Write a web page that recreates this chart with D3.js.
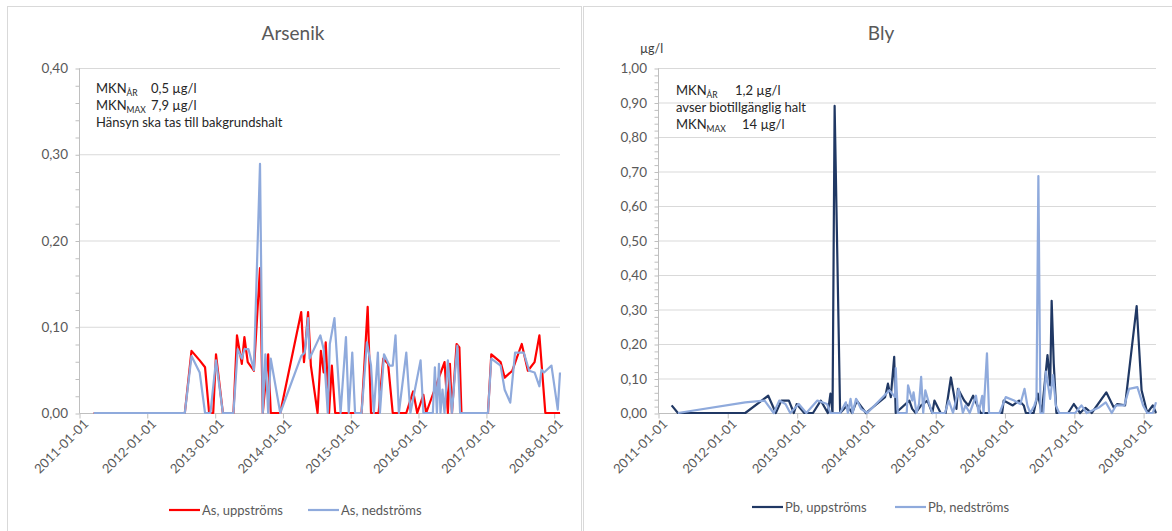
<!DOCTYPE html>
<html>
<head>
<meta charset="utf-8">
<script src="https://cdn.jsdelivr.net/npm/d3@7"></script>
<style>
  body { margin: 0; background: #fff; }
  svg { font-family: Lato, "Open Sans", sans-serif; }
</style>
</head>
<body>
<svg id="chart" width="1172" height="531"></svg>
<script>
// year ticks on both date axes
const yearTicks = ["2011-01-01", "2012-01-01", "2013-01-01", "2014-01-01", "2015-01-01", "2016-01-01", "2017-01-01", "2018-01-01"];
const asTicks = [0, 0.1, 0.2, 0.3, 0.4];
const pbTicks = [0, 0.1, 0.2, 0.3, 0.4, 0.5, 0.6, 0.7, 0.8, 0.9, 1.0];
const asLegend = ["As, uppströms", "As, nedströms"];
const pbLegend = ["Pb, uppströms", "Pb, nedströms"];

// Arsenik, µg/l
const asUpp = [
  ["2011-03-21", 0], ["2012-07-24", 0], ["2012-08-29", 0.072], ["2012-10-12", 0.061], ["2012-11-10", 0.053],
  ["2012-12-02", 0], ["2012-12-24", 0], ["2013-01-08", 0.068], ["2013-02-14", 0], ["2013-04-12", 0],
  ["2013-05-01", 0.09], ["2013-05-27", 0.057], ["2013-06-10", 0.088], ["2013-06-28", 0.059], ["2013-07-31", 0.049],
  ["2013-09-02", 0.168], ["2013-09-17", 0], ["2013-10-16", 0.068], ["2013-10-30", 0], ["2013-12-20", 0],
  ["2014-04-12", 0.117], ["2014-04-27", 0.059], ["2014-05-19", 0.117], ["2014-06-03", 0.055], ["2014-07-09", 0],
  ["2014-07-27", 0.072], ["2014-08-11", 0.047], ["2014-08-22", 0.082], ["2014-09-09", 0], ["2014-09-24", 0.055],
  ["2014-10-12", 0], ["2014-12-20", 0], ["2015-03-03", 0], ["2015-03-18", 0.055], ["2015-04-05", 0.123],
  ["2015-04-23", 0], ["2015-06-03", 0], ["2015-06-28", 0.063], ["2015-07-24", 0.057], ["2015-08-18", 0],
  ["2015-10-30", 0], ["2015-12-06", 0.025], ["2015-12-28", 0], ["2016-01-30", 0.021], ["2016-02-14", 0],
  ["2016-05-23", 0.059], ["2016-06-10", 0], ["2016-06-21", 0.057], ["2016-07-02", 0], ["2016-07-27", 0.08],
  ["2016-08-11", 0.076], ["2016-08-22", 0], ["2017-01-12", 0], ["2017-01-30", 0.068], ["2017-03-21", 0.059],
  ["2017-04-12", 0.041], ["2017-05-23", 0.049], ["2017-07-13", 0.08], ["2017-08-15", 0.049], ["2017-09-20", 0.059],
  ["2017-10-16", 0.09], ["2017-11-17", 0], ["2018-02-04", 0]
];
const asNed = [
  ["2011-03-21", 0], ["2012-07-24", 0], ["2012-08-29", 0.066], ["2012-10-12", 0.047], ["2012-11-10", 0],
  ["2012-12-09", 0], ["2013-01-08", 0.061], ["2013-02-14", 0], ["2013-04-12", 0], ["2013-05-05", 0.074],
  ["2013-05-27", 0.063], ["2013-06-10", 0.074], ["2013-07-02", 0.074], ["2013-07-31", 0.05], ["2013-09-02", 0.289],
  ["2013-09-17", 0], ["2013-10-01", 0.068], ["2013-10-16", 0], ["2013-10-30", 0.063], ["2013-12-20", 0],
  ["2014-04-12", 0.066], ["2014-05-01", 0.07], ["2014-05-19", 0.11], ["2014-05-27", 0.063], ["2014-07-24", 0.09],
  ["2014-08-11", 0.074], ["2014-09-02", 0], ["2014-09-13", 0.08], ["2014-10-08", 0.11], ["2014-11-10", 0],
  ["2014-12-09", 0.088], ["2014-12-24", 0], ["2015-01-12", 0.07], ["2015-01-27", 0], ["2015-03-03", 0],
  ["2015-04-01", 0.082], ["2015-04-23", 0.055], ["2015-05-08", 0], ["2015-05-30", 0.07], ["2015-06-10", 0],
  ["2015-07-02", 0.068], ["2015-07-31", 0.055], ["2015-08-18", 0.055], ["2015-09-02", 0.09], ["2015-09-20", 0],
  ["2015-10-30", 0.07], ["2015-11-21", 0], ["2016-01-15", 0.061], ["2016-01-30", 0], ["2016-03-21", 0],
  ["2016-04-01", 0.053], ["2016-04-12", 0], ["2016-04-23", 0.057], ["2016-05-01", 0], ["2016-05-12", 0.027],
  ["2016-05-23", 0], ["2016-06-10", 0.061], ["2016-07-02", 0], ["2016-07-24", 0.061], ["2016-07-31", 0.078],
  ["2016-08-15", 0], ["2017-01-12", 0], ["2017-01-30", 0.063], ["2017-03-21", 0.055], ["2017-04-12", 0.027],
  ["2017-05-12", 0.012], ["2017-06-07", 0.07], ["2017-07-24", 0.07], ["2017-08-22", 0.049], ["2017-09-20", 0.047],
  ["2017-10-16", 0.031], ["2017-10-27", 0.05], ["2017-11-10", 0.047], ["2017-12-20", 0.055], ["2018-01-23", 0.004],
  ["2018-02-04", 0.047]
];

// Bly, µg/l
const pbUpp = [
  ["2011-03-14", 0.022], ["2011-04-16", 0], ["2012-04-05", 0], ["2012-08-04", 0.05], ["2012-09-13", 0],
  ["2012-10-12", 0.036], ["2012-11-21", 0.036], ["2012-12-17", 0], ["2013-01-01", 0.026], ["2013-02-10", 0],
  ["2013-03-28", 0], ["2013-05-08", 0.036], ["2013-06-14", 0], ["2013-06-28", 0.056], ["2013-07-09", 0],
  ["2013-07-20", 0.89], ["2013-08-18", 0], ["2013-09-24", 0.022], ["2013-10-20", 0], ["2013-11-14", 0.036],
  ["2014-01-01", 0], ["2014-04-12", 0.046], ["2014-04-27", 0.085], ["2014-05-12", 0.046], ["2014-05-30", 0.163],
  ["2014-06-07", 0], ["2014-08-18", 0.036], ["2014-09-02", 0.012], ["2014-09-20", 0], ["2014-10-19", 0.022],
  ["2014-11-21", 0.036], ["2014-12-17", 0], ["2014-12-28", 0.036], ["2015-01-30", 0], ["2015-02-25", 0],
  ["2015-03-25", 0.103], ["2015-04-23", 0.012], ["2015-05-01", 0.07], ["2015-06-03", 0.036], ["2015-06-25", 0.022],
  ["2015-07-20", 0.05], ["2015-08-29", 0], ["2015-12-20", 0], ["2015-12-28", 0.036], ["2016-02-14", 0.022],
  ["2016-03-18", 0.036], ["2016-04-12", 0.022], ["2016-04-23", 0], ["2016-06-03", 0], ["2016-06-25", 0.056],
  ["2016-07-16", 0], ["2016-08-15", 0.168], ["2016-08-29", 0.08], ["2016-09-06", 0.325], ["2016-09-17", 0.144],
  ["2016-10-01", 0], ["2016-12-02", 0], ["2017-01-01", 0.026], ["2017-02-03", 0], ["2017-03-03", 0.015],
  ["2017-04-05", 0], ["2017-06-21", 0.06], ["2017-07-31", 0.015], ["2017-08-18", 0.026], ["2017-09-28", 0.022],
  ["2017-11-28", 0.31], ["2017-12-24", 0.066], ["2018-01-23", 0], ["2018-02-21", 0.022], ["2018-03-10", 0]
];
const pbNed = [
  ["2011-04-16", 0], ["2012-04-05", 0.031], ["2012-07-16", 0.036], ["2012-09-02", 0], ["2012-10-01", 0.036],
  ["2012-11-03", 0.026], ["2012-11-28", 0], ["2013-01-12", 0.026], ["2013-02-21", 0], ["2013-04-20", 0.036],
  ["2013-06-10", 0.026], ["2013-06-28", 0], ["2013-08-18", 0], ["2013-09-17", 0.031], ["2013-09-28", 0],
  ["2013-10-12", 0.041], ["2013-10-23", 0], ["2013-11-10", 0.041], ["2013-12-06", 0.012], ["2014-01-08", 0],
  ["2014-05-05", 0.066], ["2014-06-03", 0.046], ["2014-06-07", 0.13], ["2014-06-18", 0], ["2014-08-04", 0],
  ["2014-08-11", 0.08], ["2014-09-02", 0.036], ["2014-09-09", 0.06], ["2014-09-24", 0], ["2014-10-08", 0.026],
  ["2014-10-19", 0.105], ["2014-10-30", 0], ["2014-11-10", 0.066], ["2014-11-28", 0.031], ["2014-12-17", 0],
  ["2015-01-12", 0], ["2015-02-21", 0], ["2015-03-14", 0.036], ["2015-04-05", 0], ["2015-05-05", 0.07],
  ["2015-05-27", 0], ["2015-06-10", 0.022], ["2015-07-02", 0], ["2015-08-04", 0.05], ["2015-08-18", 0],
  ["2015-09-06", 0.05], ["2015-09-13", 0], ["2015-10-01", 0.173], ["2015-10-12", 0], ["2015-12-06", 0],
  ["2016-01-08", 0.046], ["2016-02-21", 0.036], ["2016-03-25", 0.026], ["2016-04-16", 0.07], ["2016-05-01", 0.022],
  ["2016-05-16", 0], ["2016-06-07", 0.022], ["2016-06-18", 0.041], ["2016-06-28", 0.687], ["2016-07-09", 0],
  ["2016-07-24", 0], ["2016-08-07", 0.12], ["2016-08-29", 0.041], ["2016-09-13", 0.11], ["2016-09-28", 0.022],
  ["2016-10-16", 0], ["2017-01-08", 0], ["2017-02-10", 0.022], ["2017-03-10", 0], ["2017-05-16", 0.017],
  ["2017-06-18", 0.031], ["2017-07-20", 0], ["2017-08-11", 0.022], ["2017-09-24", 0.022], ["2017-10-19", 0.07],
  ["2017-12-02", 0.075], ["2018-01-01", 0.022], ["2018-01-23", 0], ["2018-02-21", 0], ["2018-03-10", 0.031]
];

const parseDate = d3.timeParse("%Y-%m-%d");
const sv = d3.formatLocale({ decimal: ",", thousands: " ", grouping: [3], currency: ["", " kr"] });

class TimeChart {

  constructor(_config, _series) {
    this.config = _config;
    this.series = _series;
    this.initVis();
  }

  initVis() {
    let vis = this;
    const c = vis.config;
    vis.svg = d3.select("#chart");
    vis.g = vis.svg.append("g");

    // panel frame
    vis.g.append("rect")
      .attr("x", c.frame[0]).attr("y", c.frame[1])
      .attr("width", c.frame[2]).attr("height", c.frame[3])
      .attr("fill", "#fff").attr("stroke", "#d9d9d9");

    vis.x = d3.scaleTime()
      .domain([parseDate(yearTicks[0]), parseDate(c.endDate)])
      .range([c.left, c.right]);
    vis.y = d3.scaleLinear()
      .domain([0, c.yMax])
      .range([c.bottom, c.top]);

    // gridlines
    vis.g.append("g")
      .selectAll("line")
      .data(c.yTicks.slice(1))
      .join("line")
        .attr("x1", c.left).attr("x2", c.right)
        .attr("y1", d => vis.y(d) + 0.5).attr("y2", d => vis.y(d) + 0.5)
        .attr("stroke", "#d9d9d9");

    // y axis with minor ticks every 0.02
    const yAxis = d3.axisLeft(vis.y)
      .tickValues(d3.range(0, Math.round(c.yMax / 0.02) + 1).map(i => i * 0.02))
      .tickSize(4)
      .tickFormat("");
    vis.g.append("g")
      .attr("transform", `translate(${c.left + 0.5},0.5)`)
      .call(yAxis)
      .call(g => g.selectAll("line, path").attr("stroke", "#bfbfbf"))
      .call(g => g.select(".domain").attr("d", `M0,${c.bottom}V${c.top}`));

    vis.g.append("g")
      .selectAll("text")
      .data(c.yTicks)
      .join("text")
        .attr("x", c.left - 11)
        .attr("y", d => vis.y(d) + 5)
        .attr("text-anchor", "end")
        .attr("font-size", 13.5)
        .attr("fill", "#595959")
        .text(d => sv.format(".2f")(d));

    // x axis
    const xAxis = d3.axisBottom(vis.x)
      .tickValues(yearTicks.map(parseDate))
      .tickSize(5)
      .tickFormat(d3.timeFormat("%Y-%m-%d"));
    vis.g.append("g")
      .attr("transform", `translate(0.5,${c.bottom + 0.5})`)
      .call(xAxis)
      .call(g => g.selectAll("line, path").attr("stroke", "#bfbfbf"))
      .call(g => g.select(".domain").attr("d", `M${c.left},0H${c.right}`))
      .call(g => g.selectAll("text")
        .attr("font-size", 13)
        .attr("font-family", "Lato, 'Open Sans', sans-serif")
        .attr("fill", "#595959")
        .attr("text-anchor", "end")
        .attr("transform", "translate(6,8) rotate(-45)")
        .attr("dy", "0.35em")
        .attr("y", 0));

    // lines, second series drawn on top
    vis.line = d3.line()
      .x(d => vis.x(parseDate(d[0])))
      .y(d => vis.y(d[1]));
    vis.g.append("g")
      .selectAll("path")
      .data(vis.series)
      .join("path")
        .attr("d", s => vis.line(s.values))
        .attr("fill", "none")
        .attr("stroke", s => s.color)
        .attr("stroke-width", 2.2)
        .attr("stroke-linejoin", "round");

    // title
    vis.g.append("text")
      .attr("x", c.titleX).attr("y", 40)
      .attr("text-anchor", "middle")
      .attr("font-size", 19)
      .attr("fill", "#595959")
      .text(c.title);

    if (c.unit) {
      vis.g.append("text")
        .attr("x", c.unit[0]).attr("y", c.unit[1])
        .attr("font-size", 12.5)
        .attr("fill", "#404040")
        .text("µg/l");
    }

    // MKN notes
    const note = vis.g.append("g")
      .attr("font-size", 13)
      .attr("fill", "#262626");
    c.notes.forEach((n, i) => {
      const t = note.append("text")
        .attr("x", c.noteX)
        .attr("y", c.noteY + i * c.noteStep);
      if (n.sub) {
        t.append("tspan").text("MKN");
        t.append("tspan").attr("font-size", 8.5).attr("dy", 3).text(n.sub);
        t.append("tspan").attr("x", n.valX).attr("dy", -3).text(n.text);
      } else {
        t.text(n.text);
      }
    });

    // legend
    const leg = vis.g.append("g").attr("font-size", 13).attr("fill", "#595959");
    vis.series.forEach((s, i) => {
      const lx = c.legendX[i];
      leg.append("line")
        .attr("x1", lx).attr("x2", lx + 31)
        .attr("y1", c.legendY).attr("y2", c.legendY)
        .attr("stroke", s.color).attr("stroke-width", 2.2);
      leg.append("text")
        .attr("x", lx + 33).attr("y", c.legendY + 5)
        .text(s.name);
    });
  }
}

new TimeChart({
  frame: [7.5, 6.5, 574, 530],
  left: 79, right: 560, top: 68, bottom: 413,
  endDate: "2018-02-04",
  yMax: 0.4, yTicks: asTicks,
  title: "Arsenik", titleX: 293,
  noteX: 96, noteY: 93, noteStep: 17,
  notes: [
    { sub: "ÅR", text: "0,5 µg/l", valX: 151 },
    { sub: "MAX", text: "7,9 µg/l", valX: 151 },
    { text: "Hänsyn ska tas till  bakgrundshalt" }
  ],
  legendX: [169, 308], legendY: 510
}, [
  { name: asLegend[0], color: "#ff0000", values: asUpp },
  { name: asLegend[1], color: "#8faadc", values: asNed }
]);

new TimeChart({
  frame: [583.5, 6.5, 600, 530],
  left: 658, right: 1156, top: 68, bottom: 413,
  endDate: "2018-03-10",
  yMax: 1.0, yTicks: pbTicks,
  title: "Bly", titleX: 881,
  unit: [640, 53],
  noteX: 676, noteY: 95, noteStep: 17,
  notes: [
    { sub: "ÅR", text: "1,2 µg/l", valX: 735 },
    { text: "avser biotillgänglig halt" },
    { sub: "MAX", text: "14 µg/l", valX: 742 }
  ],
  legendX: [752, 895], legendY: 507
}, [
  { name: pbLegend[0], color: "#203864", values: pbUpp },
  { name: pbLegend[1], color: "#8faadc", values: pbNed }
]);
</script>
</body>
</html>
